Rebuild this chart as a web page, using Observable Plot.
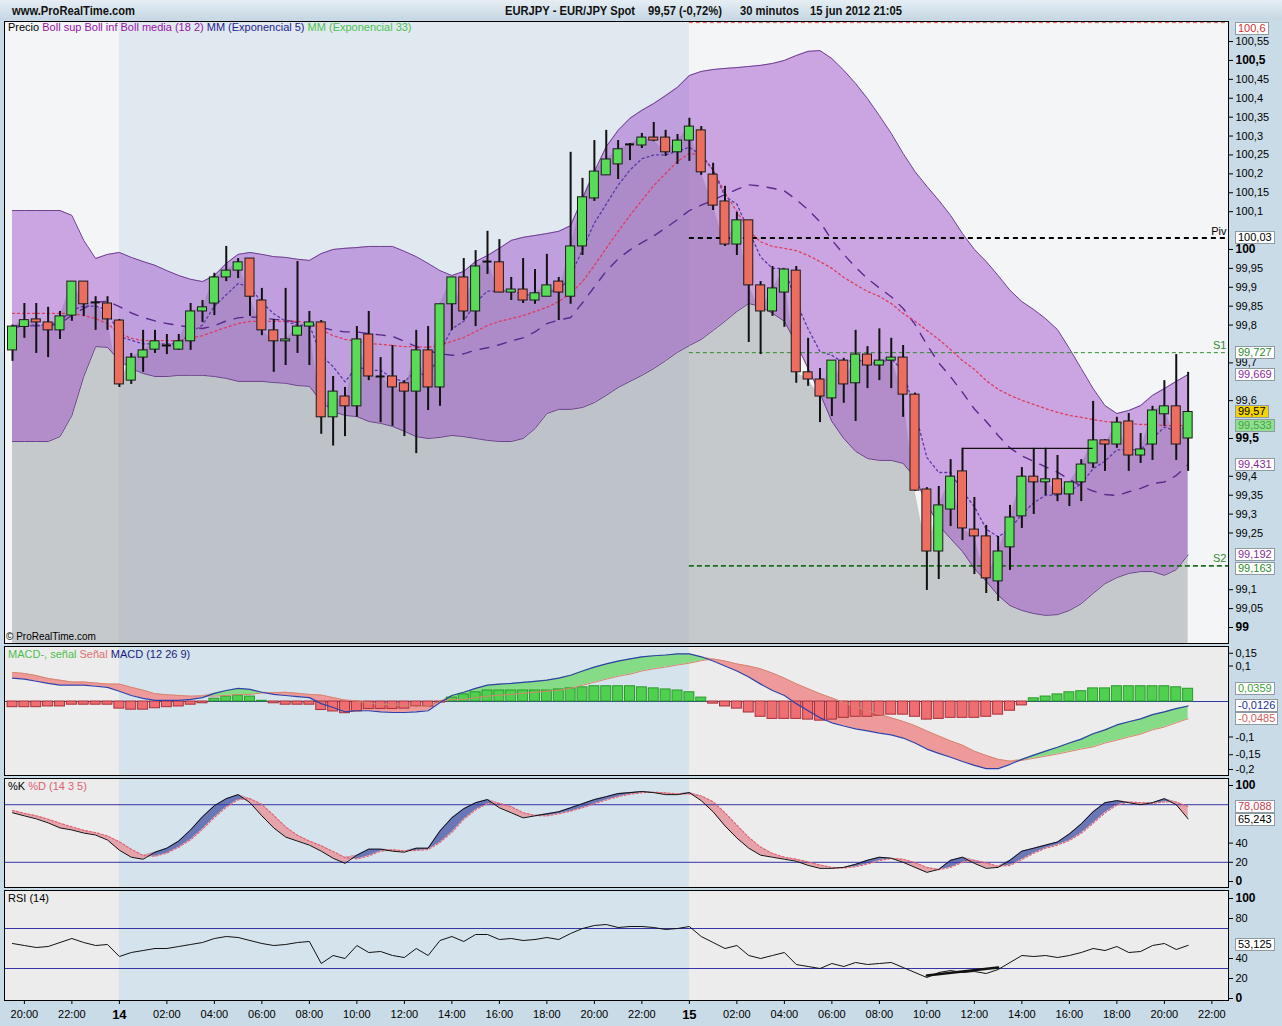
<!DOCTYPE html>
<html><head><meta charset="utf-8">
<script src="https://cdn.jsdelivr.net/npm/d3@7"></script>
<script src="https://cdn.jsdelivr.net/npm/@observablehq/plot@0.6"></script>
<style>
body{margin:0;background:#c9dbe7;}
#root{position:relative;width:1282px;height:1026px;overflow:hidden;background:#c9dbe7;font-family:"Liberation Sans",Arial,sans-serif;}
.hdr{position:absolute;left:0;top:0;width:1282px;height:20px;background:linear-gradient(#e6eef4,#c5d7e3);}
.hdr span{position:absolute;top:3px;font-weight:bold;font-size:13px;color:#111;white-space:nowrap;transform:scaleX(0.86);transform-origin:left center;}
.panel{position:absolute;left:0;}
.legend{position:absolute;left:8px;font-size:11px;white-space:nowrap;}
.vbox{position:absolute;left:1235px;font-size:11px;line-height:11px;height:11px;padding:0 2px;border:1px solid #8f9ba3;background:#fff;white-space:nowrap;}
</style></head>
<body><div id="root">
<div class="hdr">
<span style="left:12px">www.ProRealTime.com</span>
<span style="left:505px">EURJPY - EUR/JPY Spot</span>
<span style="left:648px">99,57 (-0,72%)</span>
<span style="left:740px">30 minutos</span>
<span style="left:810px">15 jun 2012 21:05</span>
</div>
</div>
<script>
// ---------- DATA ----------
const open = [99.733,99.795,99.815,99.807,99.786,99.825,99.915,99.86,99.857,99.812,
99.653,99.714,99.735,99.746,99.735,99.757,99.836,99.857,99.926,99.944,
99.976,99.865,99.786,99.757,99.772,99.796,99.807,99.556,99.611,99.585,
99.775,99.664,99.664,99.646,99.624,99.733,99.635,99.855,99.926,99.836,
99.966,99.966,99.886,99.894,99.865,99.875,99.915,99.875,100.008,100.135,
100.196,100.225,100.276,100.275,100.296,100.296,100.257,100.288,100.315,100.198,
100.127,100.013,100.077,99.905,99.836,99.886,99.944,99.675,99.656,99.606,
99.706,99.646,99.722,99.693,99.706,99.714,99.616,99.365,99.201,99.312,
99.413,99.259,99.241,99.122,99.212,99.294,99.399,99.384,99.392,99.352,
99.384,99.434,99.495,99.484,99.545,99.455,99.484,99.564,99.585,99.50];
const high = [99.80,99.857,99.857,99.847,99.836,99.915,99.915,99.875,99.875,99.815,
99.725,99.786,99.786,99.775,99.775,99.857,99.865,99.937,100.008,99.976,
99.976,99.897,99.815,99.897,99.968,99.836,99.812,99.664,99.635,99.796,
99.836,99.714,99.746,99.653,99.786,99.796,99.855,99.926,99.976,99.997,
100.048,100.026,99.926,99.976,99.947,99.987,99.926,100.257,100.188,100.288,
100.315,100.288,100.28,100.307,100.336,100.315,100.304,100.347,100.325,100.228,
100.167,100.098,100.077,99.915,99.955,99.947,99.955,99.765,99.685,99.706,
99.712,99.786,99.743,99.79,99.765,99.746,99.62,99.37,99.373,99.444,
99.474,99.344,99.27,99.241,99.323,99.423,99.474,99.474,99.455,99.384,
99.444,99.598,99.497,99.556,99.566,99.513,99.585,99.653,99.722,99.675];
const low = [99.704,99.765,99.725,99.714,99.762,99.81,99.823,99.786,99.786,99.635,
99.643,99.675,99.725,99.722,99.733,99.733,99.807,99.825,99.915,99.923,
99.823,99.772,99.675,99.693,99.725,99.693,99.511,99.48,99.505,99.556,
99.653,99.542,99.532,99.505,99.46,99.574,99.585,99.786,99.812,99.796,
99.934,99.886,99.865,99.857,99.855,99.875,99.812,99.855,99.984,100.127,
100.196,100.185,100.235,100.267,100.285,100.246,100.225,100.233,100.196,100.103,
100.008,99.984,99.754,99.722,99.823,99.794,99.646,99.638,99.542,99.558,
99.593,99.545,99.632,99.653,99.632,99.556,99.36,99.098,99.127,99.267,
99.23,99.14,99.09,99.069,99.151,99.262,99.299,99.349,99.333,99.32,
99.333,99.421,99.413,99.474,99.413,99.434,99.442,99.532,99.442,99.413];
const close = [99.796,99.813,99.807,99.786,99.823,99.915,99.855,99.86,99.815,99.643,
99.714,99.733,99.757,99.746,99.757,99.836,99.847,99.926,99.944,99.966,
99.875,99.786,99.757,99.762,99.796,99.807,99.556,99.624,99.585,99.762,
99.664,99.664,99.635,99.624,99.733,99.635,99.855,99.926,99.836,99.955,
99.968,99.886,99.894,99.865,99.884,99.905,99.886,100.008,100.138,100.206,
100.238,100.265,100.278,100.296,100.288,100.257,100.288,100.325,100.204,100.116,
100.013,100.077,99.905,99.836,99.897,99.947,99.675,99.656,99.611,99.706,
99.643,99.722,99.693,99.706,99.714,99.616,99.362,99.201,99.323,99.399,
99.262,99.241,99.13,99.201,99.291,99.399,99.384,99.392,99.352,99.384,
99.431,99.495,99.484,99.542,99.455,99.471,99.574,99.585,99.484,99.57];
const bbUp = [100.103,100.103,100.103,100.103,100.103,100.090,100.024,99.976,99.987,99.992,
99.979,99.968,99.958,99.944,99.931,99.921,99.915,99.931,99.963,99.987,
99.992,99.987,99.981,99.979,99.974,99.971,99.989,100.000,100.003,100.005,
100.008,100.008,100.008,99.995,99.981,99.963,99.944,99.931,99.942,99.968,
99.984,100.003,100.024,100.032,100.037,100.042,100.048,100.063,100.135,100.206,
100.272,100.315,100.347,100.368,100.386,100.407,100.429,100.460,100.471,100.476,
100.479,100.481,100.484,100.487,100.492,100.500,100.513,100.524,100.526,100.505,
100.474,100.439,100.399,100.354,100.307,100.254,100.206,100.167,100.130,100.090,
100.042,100.000,99.968,99.931,99.892,99.862,99.841,99.817,99.788,99.738,
99.685,99.632,99.587,99.566,99.574,99.587,99.614,99.632,99.651,99.669];
const bbLow = [99.492,99.492,99.492,99.492,99.505,99.561,99.664,99.743,99.741,99.706,
99.685,99.672,99.664,99.664,99.667,99.667,99.667,99.664,99.659,99.651,
99.651,99.651,99.648,99.646,99.640,99.638,99.598,99.571,99.561,99.558,
99.545,99.540,99.532,99.519,99.505,99.500,99.503,99.508,99.505,99.500,
99.495,99.492,99.492,99.500,99.526,99.566,99.577,99.577,99.582,99.595,
99.614,99.635,99.651,99.667,99.685,99.706,99.728,99.746,99.762,99.786,
99.810,99.836,99.857,99.849,99.831,99.810,99.751,99.685,99.619,99.545,
99.500,99.466,99.447,99.442,99.442,99.434,99.397,99.328,99.270,99.235,
99.201,99.156,99.122,99.085,99.058,99.045,99.037,99.032,99.034,99.045,
99.063,99.090,99.116,99.132,99.143,99.148,99.148,99.138,99.153,99.192];
const bbMid = [99.798,99.798,99.798,99.798,99.804,99.826,99.844,99.860,99.863,99.849,
99.832,99.820,99.811,99.804,99.799,99.794,99.791,99.798,99.811,99.819,
99.822,99.819,99.815,99.813,99.807,99.805,99.794,99.786,99.782,99.782,
99.777,99.774,99.770,99.757,99.743,99.732,99.724,99.720,99.724,99.734,
99.740,99.748,99.758,99.766,99.782,99.804,99.813,99.820,99.859,99.901,
99.943,99.975,99.999,100.018,100.036,100.057,100.079,100.103,100.117,100.131,
100.145,100.159,100.171,100.168,100.162,100.155,100.132,100.105,100.073,100.025,
99.987,99.953,99.923,99.898,99.875,99.844,99.802,99.748,99.700,99.663,
99.622,99.578,99.545,99.508,99.475,99.454,99.439,99.425,99.411,99.392,
99.374,99.361,99.352,99.349,99.359,99.368,99.381,99.385,99.402,99.431];
const ema5 = [99.79,99.80,99.80,99.80,99.81,99.84,99.85,99.85,99.84,99.77,
99.76,99.75,99.75,99.75,99.75,99.78,99.80,99.85,99.88,99.91,
99.90,99.86,99.83,99.81,99.80,99.80,99.72,99.69,99.65,99.69,
99.68,99.68,99.66,99.65,99.68,99.66,99.73,99.79,99.81,99.86,
99.89,99.89,99.89,99.88,99.88,99.89,99.89,99.93,100.00,100.07,
100.12,100.17,100.21,100.24,100.25,100.25,100.26,100.27,100.25,100.21,
100.14,100.12,100.05,99.98,99.95,99.95,99.86,99.79,99.73,99.72,
99.70,99.71,99.70,99.70,99.71,99.68,99.57,99.45,99.41,99.41,
99.36,99.32,99.26,99.24,99.26,99.30,99.33,99.35,99.35,99.36,
99.38,99.42,99.44,99.47,99.47,99.47,99.50,99.53,99.52,99.533];
const emaSlow = [99.831,99.831,99.831,99.831,99.831,99.831,99.825,99.817,99.804,99.778,
99.765,99.759,99.759,99.759,99.759,99.765,99.772,99.783,99.794,99.804,
99.810,99.810,99.810,99.810,99.810,99.804,99.788,99.772,99.762,99.757,
99.751,99.749,99.746,99.743,99.743,99.741,99.746,99.757,99.767,99.783,
99.799,99.810,99.817,99.825,99.836,99.847,99.862,99.884,99.915,99.958,
100.003,100.048,100.090,100.130,100.169,100.201,100.233,100.254,100.25,100.21,
100.15,100.10,100.05,100.02,100.008,100.003,99.997,99.984,99.968,99.950,
99.926,99.907,99.889,99.876,99.857,99.831,99.810,99.786,99.762,99.735,
99.706,99.683,99.653,99.630,99.614,99.601,99.590,99.579,99.569,99.561,
99.556,99.550,99.545,99.542,99.540,99.537,99.537,99.534,99.534,99.534];
const macd = [0.066,0.063,0.057,0.051,0.046,0.046,0.046,0.043,0.040,0.029,
0.017,0.009,0.003,0.003,0.003,0.006,0.011,0.023,0.031,0.037,
0.034,0.026,0.020,0.017,0.014,0.011,-0.006,-0.017,-0.029,-0.026,
-0.026,-0.029,-0.031,-0.031,-0.029,-0.026,-0.003,0.017,0.026,0.037,
0.046,0.049,0.051,0.054,0.057,0.060,0.066,0.074,0.086,0.097,
0.106,0.114,0.120,0.126,0.129,0.131,0.134,0.134,0.126,0.114,
0.100,0.086,0.069,0.049,0.031,0.017,-0.006,-0.026,-0.046,-0.060,
-0.069,-0.077,-0.083,-0.089,-0.094,-0.103,-0.117,-0.134,-0.146,-0.157,
-0.169,-0.180,-0.189,-0.189,-0.177,-0.163,-0.151,-0.140,-0.129,-0.117,
-0.106,-0.091,-0.080,-0.066,-0.057,-0.049,-0.037,-0.029,-0.020,-0.0126];
const signal = [0.082,0.079,0.073,0.065,0.060,0.055,0.055,0.052,0.049,0.049,
0.040,0.032,0.022,0.019,0.017,0.015,0.016,0.015,0.017,0.020,
0.020,0.024,0.025,0.026,0.023,0.020,0.018,0.011,0.004,0.002,
-0.005,-0.008,-0.010,-0.011,-0.015,-0.012,0.000,0.006,0.006,0.011,
0.015,0.018,0.020,0.023,0.026,0.029,0.032,0.037,0.046,0.054,
0.063,0.071,0.077,0.086,0.092,0.097,0.103,0.108,0.115,0.120,
0.114,0.106,0.100,0.092,0.080,0.066,0.050,0.036,0.022,0.010,
-0.003,-0.015,-0.026,-0.036,-0.046,-0.056,-0.068,-0.083,-0.097,-0.111,
-0.123,-0.140,-0.152,-0.163,-0.168,-0.166,-0.160,-0.154,-0.148,-0.141,
-0.134,-0.128,-0.117,-0.109,-0.100,-0.092,-0.080,-0.072,-0.060,-0.0485];
const hist = [-0.016,-0.016,-0.016,-0.014,-0.014,-0.009,-0.009,-0.009,-0.009,-0.020,
-0.023,-0.023,-0.019,-0.016,-0.014,-0.009,-0.005,0.008,0.014,0.017,
0.014,0.002,-0.005,-0.009,-0.009,-0.009,-0.024,-0.028,-0.033,-0.028,
-0.021,-0.021,-0.021,-0.020,-0.014,-0.014,-0.003,0.011,0.020,0.026,
0.031,0.031,0.031,0.031,0.031,0.031,0.034,0.037,0.040,0.043,
0.043,0.043,0.043,0.040,0.037,0.034,0.031,0.026,0.011,-0.006,
-0.014,-0.020,-0.031,-0.043,-0.049,-0.049,-0.049,-0.051,-0.054,-0.051,
-0.046,-0.043,-0.043,-0.040,-0.037,-0.037,-0.043,-0.051,-0.049,-0.046,
-0.046,-0.046,-0.043,-0.037,-0.026,-0.011,0.009,0.014,0.020,0.026,
0.029,0.037,0.037,0.043,0.043,0.043,0.043,0.043,0.040,0.0359];
const stochK = [71.6,68.4,65.3,61.1,55.8,53.7,50.5,48.4,43.2,32.6,
25.3,23.2,30.5,34.7,42.1,53.7,67.4,78.9,86.3,90.5,
82.1,68.4,55.8,46.3,42.1,37.9,31.6,24.2,18.9,27.4,
33.7,33.7,31.6,30.5,34.7,34.7,52.6,66.3,75.8,82.1,
85.3,76.8,71.6,66.3,68.4,70.5,72.6,76.8,81.1,85.3,
88.4,91.6,92.6,93.7,92.6,90.5,90.5,92.6,84.2,72.6,
57.9,45.3,34.7,27.4,25.3,23.2,21.1,16.8,13.7,13.7,
14.7,17.9,22.1,25.3,24.2,20.0,14.7,9.5,12.6,22.1,
25.3,18.9,13.7,14.7,22.1,31.6,34.7,37.9,41.1,49.5,
60.0,72.6,82.1,84.2,82.1,80.0,82.1,86.3,80.0,65.243];
const stochD = [74.0,71.0,68.4,64.9,60.7,56.9,53.3,50.9,47.4,41.4,
33.7,27.0,26.3,29.5,35.8,43.5,54.4,66.7,77.5,85.2,
86.3,80.3,68.8,56.8,48.1,42.1,37.2,31.2,24.9,23.5,
26.7,31.6,33.0,31.9,32.3,33.3,40.7,51.2,64.9,74.7,
81.1,81.4,77.9,71.6,68.8,68.4,70.5,73.3,76.8,81.1,
84.9,88.4,90.9,92.6,93.0,92.3,91.2,91.2,89.1,83.1,
71.6,58.6,46.0,35.8,29.1,25.3,23.2,20.4,17.2,14.7,
14.0,15.4,18.2,21.8,23.9,23.2,19.6,14.7,12.3,14.7,
20.0,22.1,19.3,15.8,16.8,22.8,29.5,34.7,37.9,42.8,
50.2,60.7,71.6,79.6,82.8,82.1,81.4,82.8,82.8,78.088];
const rsi = [55,53,51,52,56,60,56,53,54,42,
46,48,50,50,52,54,56,60,62,61,
58,55,53,54,56,57,35,43,40,53,
46,47,43,41,50,43,58,62,57,64,
64,59,60,58,59,61,59,65,70,73,
74,71,72,72,71,69,70,72,62,56,
50,53,43,40,43,46,34,32,30,35,
32,36,34,35,36,31,26,21,26,28,
26,27,25,29,36,43,42,43,41,43,
46,50,48,52,46,47,53,55,49,53.125];
const tickLabels = ["20:00","22:00","14","02:00","04:00","06:00","08:00","10:00","12:00","14:00","16:00","18:00","20:00","22:00",
"15","02:00","04:00","06:00","08:00","10:00","12:00","14:00","16:00","18:00","20:00","22:00"];
const priceTicks = [99,99.05,99.1,99.15,99.2,99.25,99.3,99.35,99.4,99.45,99.5,99.55,99.6,99.65,99.7,99.75,99.8,99.85,99.9,99.95,
100,100.05,100.1,100.15,100.2,100.25,100.3,100.35,100.4,100.45,100.5,100.55];
const macdTicks = [0.15,0.1,0.05,0,-0.05,-0.1,-0.15,-0.2];
const oscTicks = [0,20,40,60,80,100];
const levels = [
  {name:"", v:100.6, stroke:"#e05050", w:1, dash:"4,3"},
  {name:"Piv", v:100.03, stroke:"#000", w:2, dash:"5,4"},
  {name:"S1", v:99.727, stroke:"#2e8b2e", w:1, dash:"4,3"},
  {name:"S2", v:99.163, stroke:"#1e6e1e", w:1.6, dash:"5,3"}];
const resistance = [{from:80, to:91, v:99.474}];
const rsiDiverg = [{i:77, v:23}, {i:83, v:31}];
// right-hand value boxes: [value, text, text colour, background]
const priceBoxes = [[100.6,"100,6","#d03030",null],[100.03,"100,03","#000",null],[99.727,"99,727","#2e8b2e",null],
  [99.669,"99,669","#8a2a9a",null],[99.533,"99,533","#4aa04a","#8fe08f"],[99.57,"99,57","#000","#f3d400"],
  [99.431,"99,431","#8a2a9a",null],[99.192,"99,192","#8a2a9a",null],[99.155,"99,163","#2e8b2e",null]];
const macdBoxes = [[0.0359,"0,0359","#3aa03a",null],[-0.0126,"-0,0126","#2030a0",null],[-0.0485,"-0,0485","#d06060",null]];
const stochBoxes = [[78.088,"78,088","#c83c50",null],[64.243,"65,243","#000",null]];
const rsiBoxes = [[53.125,"53,125","#000",null]];

// ---------- SETUP ----------
const N = close.length;
const idx = d3.range(N);
const t0 = Date.UTC(2012,5,13,19,30);
const times = idx.map(i => new Date(t0 + i*1800000));
const day14 = times.findIndex(t => t.getUTCDate() === 14);
const day15 = times.findIndex(t => t.getUTCDate() === 15);
const tickIdx = tickLabels.map((_, k) => 1 + 4*k);
const labelOf = new Map(tickIdx.map((t, k) => [t, tickLabels[k]]));
const candles = idx.map(i => ({i, o:open[i], h:high[i], l:low[i], c:close[i]}));
const XD = [-0.674, 102.4];
const W = 1282, ML = 4, MR = 54;
const FONT = '"Liberation Sans", Arial, sans-serif';
const root = document.getElementById("root");
const fmt = v => String(+v.toFixed(4)).replace(".", ",");
const G = "#58dc58", R = "#ec6e5e";
const baseStyle = {background:"transparent", fontFamily:FONT, fontSize:"11px", overflow:"visible", color:"#000"};
// tick labels hidden behind a value box (as in the original) are left out
const visible = (ticks, boxes, gap) => ticks.filter(t => boxes.every(b => Math.abs(b[0] - t) > gap));

function mount(chart, top){
  chart.style.position = "absolute"; chart.style.left = "0px"; chart.style.top = top + "px";
  root.appendChild(chart);
}
function boxes(chart, top, list, minTop){
  list.forEach(([v, text, color, bg]) => {
    let y = chart.scale("y").apply(v) + top - 6.5;
    if (minTop !== undefined) y = Math.max(y, minTop);
    const d = document.createElement("div");
    d.className = "vbox"; d.textContent = text;
    d.style.top = y + "px"; d.style.color = color; if (bg) d.style.background = bg;
    root.appendChild(d);
  });
}
function legend(top, parts){
  const d = document.createElement("div");
  d.className = "legend"; d.style.top = top + "px";
  parts.forEach(([t, c]) => { const s = document.createElement("span"); s.textContent = t; s.style.color = c; d.appendChild(s); });
  root.appendChild(d);
}
function rightAxes(ticks, isMajor, opts = {}){
  return [
    Plot.axisY(ticks.filter(t => !isMajor(t)), {anchor:"right", tickSize:4, tickPadding:3, tickFormat:fmt, fontSize:11, label:null, ...opts}),
    Plot.axisY(ticks.filter(isMajor), {anchor:"right", tickSize:4, tickPadding:3, tickFormat:fmt, fontSize:12, fontWeight:"bold", label:null, ...opts})
  ];
}
function dayBg(fill){ return Plot.rect([{a:day14, b:day15}], {x1:"a", x2:"b", fill}); }

// ---------- PRICE ----------
const yP = [98.9577, 100.603];
const priceTop = 20;
const price = Plot.plot({
  width:W, height:624, marginLeft:ML, marginRight:MR, marginTop:1, marginBottom:1,
  x:{domain:XD, axis:null}, y:{domain:yP, axis:null}, style:baseStyle,
  marks:[
    Plot.frame({fill:"#f4f5f6"}),
    dayBg("#e0e9f0"),
    Plot.areaY(candles, {x:"i", y1:yP[0], y2:"c", fill:"#a0a4a8", fillOpacity:0.55}),
    Plot.areaY(idx, {x:d=>d, y1:d=>bbLow[d], y2:d=>bbUp[d], fill:"#9a45c8", fillOpacity:0.45}),
    Plot.lineY(idx, {x:d=>d, y:d=>bbUp[d], stroke:"#6d3f90", strokeWidth:1}),
    Plot.lineY(idx, {x:d=>d, y:d=>bbLow[d], stroke:"#6d3f90", strokeWidth:1}),
    Plot.lineY(idx, {x:d=>d, y:d=>bbMid[d], stroke:"#5b2a8c", strokeWidth:1.4, strokeDasharray:"9,9"}),
    Plot.lineY(idx, {x:d=>d, y:d=>emaSlow[d], stroke:"#e03c5c", strokeWidth:1.3, strokeDasharray:"2,3"}),
    Plot.lineY(idx, {x:d=>d, y:d=>ema5[d], stroke:"#5a3aa8", strokeWidth:1.3, strokeDasharray:"2,3"}),
    ...levels.map(l => Plot.ruleY([l], {y:"v", x1:day15, x2:XD[1], stroke:l.stroke, strokeWidth:l.w, strokeDasharray:l.dash})),
    Plot.text(levels.filter(l => l.name), {x:XD[1], y:"v", text:"name", textAnchor:"end", dx:-2, dy:-7, fill:d => d.name === "Piv" ? "#000" : "#2e8b2e", fontSize:11}),
    Plot.ruleX(candles, {x:"i", y1:"l", y2:"h", stroke:"#111", strokeWidth:2}),
    Plot.rect(candles.filter(d => Math.abs(d.c - d.o) >= 0.004), {x1:d=>d.i-0.38, x2:d=>d.i+0.38, y1:"o", y2:"c", fill:d => d.c > d.o ? G : R, stroke:"#1a1a1a", strokeWidth:1}),
    Plot.ruleY(candles.filter(d => Math.abs(d.c - d.o) < 0.004), {y:"c", x1:d=>d.i-0.38, x2:d=>d.i+0.38, stroke:"#111", strokeWidth:2}),
    Plot.ruleY(resistance, {y:"v", x1:"from", x2:"to", stroke:"#111", strokeWidth:1.2}),
    ...rightAxes(visible(priceTicks, priceBoxes, 0.024), t => Math.abs(t*2 - Math.round(t*2)) < 1e-9),
    Plot.frame({stroke:"#000"})
  ]
});
mount(price, priceTop);
legend(21, [["Precio ", "#000"], ["Boll sup Boll inf Boll media (18 2) ", "#9a12a8"], ["MM (Exponencial 5) ", "#23238f"], ["MM (Exponencial 33)", "#4cc24c"]]);
{
  const c = document.createElement("div");
  c.className = "legend"; c.style.left = "6px"; c.style.top = "631px"; c.style.fontSize = "10px"; c.textContent = "© ProRealTime.com";
  root.appendChild(c);
}
boxes(price, priceTop, priceBoxes, 22);

// ---------- MACD ----------
const macdTop = 645;
const mD = idx.map(i => ({i, m:macd[i], s:signal[i], h:hist[i]}));
const mTicks = visible(macdTicks, macdBoxes, 0.025);
const macdChart = Plot.plot({
  width:W, height:131, marginLeft:ML, marginRight:MR, marginTop:1, marginBottom:1,
  x:{domain:XD, axis:null}, y:{domain:[-0.2085, 0.155], axis:null}, style:baseStyle,
  marks:[
    Plot.frame({fill:"#ececec"}),
    dayBg("#d5e3ec"),
    Plot.areaY(mD, {x:"i", y1:"s", y2:d => Math.max(d.m, d.s), fill:"#86dc86"}),
    Plot.areaY(mD, {x:"i", y1:"m", y2:d => Math.max(d.m, d.s), fill:"#ee9a9a"}),
    Plot.ruleY([0], {stroke:"#2c3a9c", strokeWidth:1.2}),
    Plot.rect(mD, {x1:d=>d.i-0.42, x2:d=>d.i+0.42, y1:0, y2:"h", fill:d => d.h > 0 ? "#4fd04f" : "#ee6e72", stroke:d => d.h > 0 ? "#2a9a2a" : "#a83038", strokeWidth:1}),
    Plot.lineY(mD, {x:"i", y:"s", stroke:"#d7866e", strokeWidth:1}),
    Plot.lineY(mD, {x:"i", y:"m", stroke:"#3040a8", strokeWidth:1.2}),
    Plot.axisY(mTicks.filter(t => t < 0.12 && t > -0.18), {anchor:"right", tickSize:4, tickPadding:3, tickFormat:fmt, fontSize:11, label:null}),
    Plot.axisY(mTicks.filter(t => t >= 0.12), {anchor:"right", tickSize:4, tickPadding:3, tickFormat:fmt, fontSize:11, label:null, dy:5}),
    Plot.axisY(mTicks.filter(t => t <= -0.18), {anchor:"right", tickSize:4, tickPadding:3, tickFormat:fmt, fontSize:11, label:null, dy:-3}),
    Plot.frame({stroke:"#000"})
  ]
});
mount(macdChart, macdTop);
legend(648, [["MACD-, señal ", "#4cbf4c"], ["Señal ", "#e07070"], ["MACD (12 26 9)", "#1a1a80"]]);
boxes(macdChart, macdTop, macdBoxes);

// ---------- STOCHASTIC ----------
const stTop = 777;
const sD = idx.map(i => ({i, k:stochK[i], d:stochD[i]}));
const stoch = Plot.plot({
  width:W, height:111, marginLeft:ML, marginRight:MR, marginTop:1, marginBottom:1,
  x:{domain:XD, axis:null}, y:{domain:[-6.25, 107.3], axis:null}, style:baseStyle,
  marks:[
    Plot.frame({fill:"#ececec"}),
    dayBg("#d5e3ec"),
    Plot.areaY(sD, {x:"i", y1:"d", y2:d => Math.max(d.k, d.d), fill:"#5e6ab0", fillOpacity:0.9}),
    Plot.areaY(sD, {x:"i", y1:"k", y2:d => Math.max(d.k, d.d), fill:"#e6a0a6", fillOpacity:0.95}),
    Plot.ruleY([20, 80], {stroke:"#3535a5", strokeWidth:1}),
    Plot.lineY(sD, {x:"i", y:"d", stroke:"#e06474", strokeWidth:1.2, strokeDasharray:"2,2"}),
    Plot.lineY(sD, {x:"i", y:"k", stroke:"#111", strokeWidth:1}),
    ...rightAxes(visible(oscTicks, stochBoxes, 9.5), t => t === 0 || t === 100),
    Plot.frame({stroke:"#000"})
  ]
});
mount(stoch, stTop);
legend(780, [["%K ", "#000"], ["%D (14 3 5)", "#e06070"]]);
boxes(stoch, stTop, stochBoxes);

// ---------- RSI ----------
const rsiTop = 889;
const rD = idx.map(i => ({i, r:rsi[i]}));
const rsiChart = Plot.plot({
  width:W, height:137, marginLeft:ML, marginRight:MR, marginTop:1, marginBottom:26,
  x:{domain:XD}, y:{domain:[-2, 108], axis:null}, style:baseStyle,
  marks:[
    Plot.frame({fill:"#ececec"}),
    dayBg("#d5e3ec"),
    Plot.ruleY([30, 70], {stroke:"#3535a5", strokeWidth:1}),
    Plot.lineY(rD, {x:"i", y:"r", stroke:"#111", strokeWidth:1}),
    Plot.lineY(rsiDiverg, {x:"i", y:"v", stroke:"#111", strokeWidth:2.5}),
    ...rightAxes(visible(oscTicks, rsiBoxes, 9), t => t === 0 || t === 100),
    Plot.axisX(tickIdx.filter(t => labelOf.get(t).length > 2), {anchor:"bottom", tickSize:4, tickPadding:6, tickFormat:t => labelOf.get(t), fontSize:11, label:null}),
    Plot.axisX(tickIdx.filter(t => labelOf.get(t).length <= 2), {anchor:"bottom", tickSize:4, tickPadding:5, tickFormat:t => labelOf.get(t), fontSize:13, fontWeight:"bold", label:null}),
    Plot.frame({stroke:"#000"})
  ]
});
mount(rsiChart, rsiTop);
legend(892, [["RSI (14)", "#000"]]);
boxes(rsiChart, rsiTop, rsiBoxes);
</script>
</body></html>
